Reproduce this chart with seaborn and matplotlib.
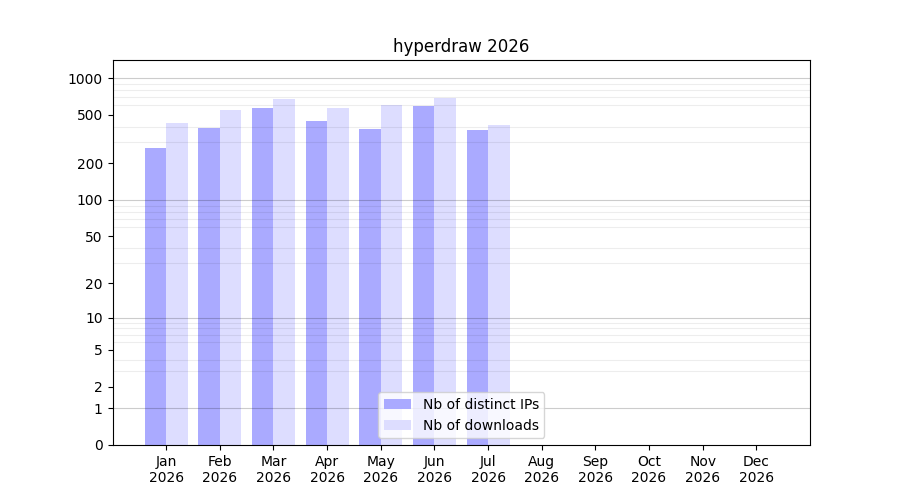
import numpy as np
import pandas as pd
import matplotlib
matplotlib.use("Agg")
import matplotlib.pyplot as plt
import seaborn as sns

months = ["Jan", "Feb", "Mar", "Apr", "May", "Jun", "Jul", "Aug", "Sep", "Oct", "Nov", "Dec"]
year = "2026"
ips = [268, 390, 572, 447, 383, 597, 377, np.nan, np.nan, np.nan, np.nan, np.nan]
downloads = [429, 552, 676, 572, 604, 693, 415, np.nan, np.nan, np.nan, np.nan, np.nan]
series_names = ["Nb of distinct IPs", "Nb of downloads"]
colors = ["#aaaaff", "#ddddff"]
ytick_values = [0, 1, 2, 5, 10, 20, 50, 100, 200, 500, 1000]
y_top = 1410

df = pd.DataFrame({
    "month": months * 2,
    "value": ips + downloads,
    "series": [series_names[0]] * 12 + [series_names[1]] * 12,
})

fig, ax = plt.subplots(figsize=(9, 5), dpi=100)
ax.set_yscale("function", functions=(lambda v: np.log10(1 + np.clip(v, 0, None)),
                                      lambda y: 10 ** y - 1))
sns.barplot(data=df, x="month", y="value", hue="series", order=months,
            hue_order=series_names, palette=colors, width=0.8, saturation=1,
            errorbar=None, ax=ax, zorder=1)

ax.set_ylim(0, y_top)
ax.set_xlim(-1, 12)

ax.set_yticks(ytick_values)
ax.set_yticklabels([str(v) for v in ytick_values])
minor = [m * 10 ** k for k in range(0, 4) for m in range(2, 10)]
ax.set_yticks([v for v in minor if v < y_top], minor=True)
ax.tick_params(axis="y", which="minor", length=0)
ax.yaxis.grid(True, which="minor", color="black", alpha=0.07, linewidth=0.8, zorder=3)
for v in [1, 10, 100, 1000]:
    ax.axhline(v, color="black", alpha=0.2, linewidth=0.8, zorder=3)

ax.set_xticks(range(12))
ax.set_xticklabels([f"{m}\n{year}" for m in months])
ax.set_xlabel("")
ax.set_ylabel("")
ax.set_title(f"hyperdraw {year}")
ax.legend(loc="lower center")

fig.savefig("out.png")
